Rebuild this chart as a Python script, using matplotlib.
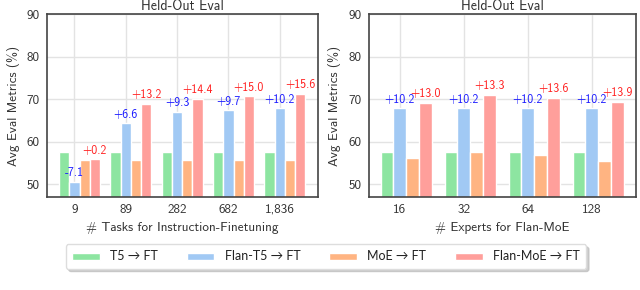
import matplotlib
matplotlib.use("Agg")
import matplotlib.pyplot as plt
import numpy as np

# ---- data ----
task_labels = ["9", "89", "282", "682", "1,836"]
t5_tasks = [57.7, 57.7, 57.7, 57.7, 57.7]
flant5_tasks = [50.6, 64.3, 67.0, 67.4, 67.9]
moe_tasks = [55.7, 55.7, 55.7, 55.7, 55.7]
flanmoe_tasks = [55.9, 68.9, 70.1, 70.7, 71.3]
flant5_tasks_gain = ["-7.1", "+6.6", "+9.3", "+9.7", "+10.2"]
flanmoe_tasks_gain = ["+0.2", "+13.2", "+14.4", "+15.0", "+15.6"]

expert_labels = ["16", "32", "64", "128"]
t5_exp = [57.7, 57.7, 57.7, 57.7]
flant5_exp = [67.9, 67.9, 67.9, 67.9]
moe_exp = [56.2, 57.7, 56.8, 55.5]
flanmoe_exp = [69.2, 71.0, 70.4, 69.4]
flant5_exp_gain = ["+10.2", "+10.2", "+10.2", "+10.2"]
flanmoe_exp_gain = ["+13.0", "+13.3", "+13.6", "+13.9"]

series_names = ["T5 \u2192 FT", "Flan-T5 \u2192 FT", "MoE \u2192 FT", "Flan-MoE \u2192 FT"]
colors = ["#8de5a1", "#a1c9f4", "#ffb482", "#ff9f9b"]

FONT = ["cmss10", "DejaVu Sans"]
plt.rcParams["font.family"] = FONT
plt.rcParams["axes.unicode_minus"] = False

fig = plt.figure(figsize=(6.4, 2.9), dpi=100)
axL = fig.add_axes([46.7 / 640, 93 / 290, 271 / 640, 182.7 / 290])
axR = fig.add_axes([368.5 / 640, 93 / 290, 267.5 / 640, 182.7 / 290])

w = 0.2
offsets = [-w, 0, w, 2 * w]


def draw(ax, labels, vals, gains_b, gains_r, xlabel):
    x = np.arange(len(labels))
    handles = []
    for k, (v, c) in enumerate(zip(vals, colors)):
        h = ax.bar(x + offsets[k], v, width=w, color=c, edgecolor="white",
                   linewidth=1.0, zorder=2, label=series_names[k])
        handles.append(h)
    for i in range(len(labels)):
        ax.text(x[i] + offsets[1], vals[1][i] + 0.6, gains_b[i], color="#1a1aff",
                ha="center", va="bottom", fontsize=8.5, zorder=4)
        ax.text(x[i] + offsets[3], vals[3][i] + 0.6, gains_r[i], color="#ff2020",
                ha="center", va="bottom", fontsize=8.5, zorder=4)
    n = len(labels)
    span = (n - 1) + 0.8
    ax.set_ylim(47, 90)
    ax.set_yticks([50, 60, 70, 80, 90])
    ax.set_xticks(x)
    ax.set_xticklabels(labels)
    ax.set_xlim(-0.3 - 0.05 * span, n - 1 + 0.5 + 0.05 * span)
    ax.grid(True, color="#e3e3e3", linewidth=1.0, zorder=0)
    ax.set_axisbelow(True)
    for s in ax.spines.values():
        s.set_color("#444444")
        s.set_linewidth(1.2)
        s.set_zorder(3)
    ax.tick_params(axis="both", length=0, labelsize=9.5, colors="#333333", pad=5)
    ax.set_title("Held-Out Eval", fontsize=10, color="#333333", pad=3)
    ax.set_xlabel(xlabel, fontsize=9.5, color="#333333", labelpad=4)
    ax.set_ylabel("Avg Eval Metrics (%)", fontsize=9.5, color="#333333", labelpad=5)
    return handles


handles = draw(axL, task_labels, [t5_tasks, flant5_tasks, moe_tasks, flanmoe_tasks],
               flant5_tasks_gain, flanmoe_tasks_gain, "# Tasks for Instruction-Finetuning")
draw(axR, expert_labels, [t5_exp, flant5_exp, moe_exp, flanmoe_exp],
     flant5_exp_gain, flanmoe_exp_gain, "# Experts for Flan-MoE")

leg = fig.legend(handles, series_names, loc="center", bbox_to_anchor=(326 / 640, 1 - 256.5 / 290),
                 ncol=4, frameon=True, shadow={"color": "#bbbbbb", "alpha": 0.7}, fancybox=True,
                 handlelength=2.2, handleheight=0.5, columnspacing=2.3, handletextpad=0.85,
                 borderpad=0.5, prop={"family": ["Lato", "DejaVu Sans"], "size": 9})
leg.get_frame().set_edgecolor("#dddddd")
for t in leg.get_texts():
    t.set_color("#222222")

fig.savefig("out.png", dpi=100)
